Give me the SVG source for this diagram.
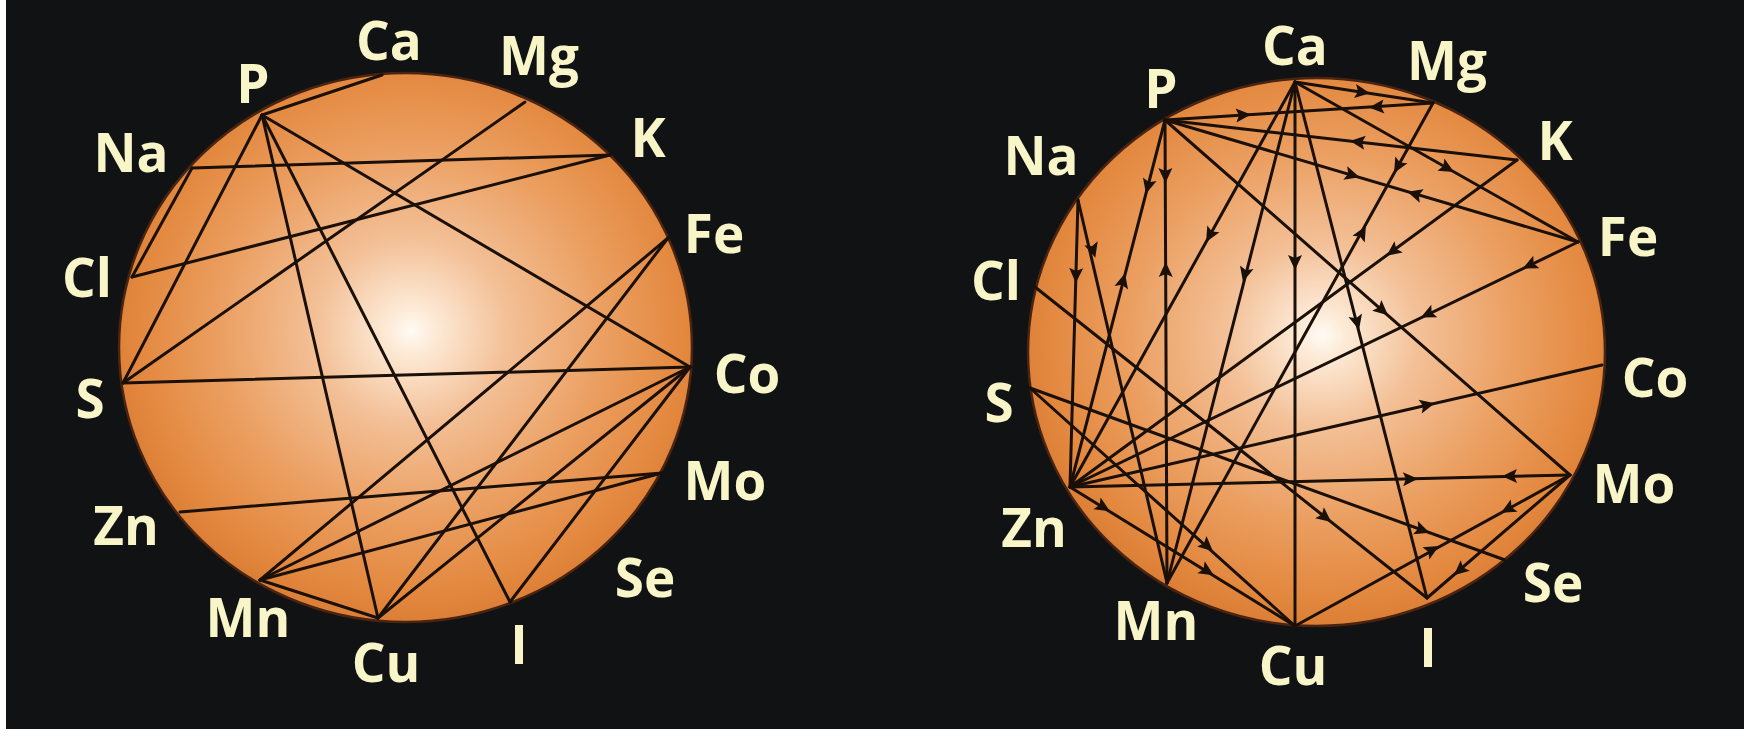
<svg xmlns="http://www.w3.org/2000/svg" width="1744" height="738" viewBox="0 0 1744 738">
<defs>
<radialGradient id="sph" cx="0.51" cy="0.47" r="0.56" fx="0.51" fy="0.47">
<stop offset="0" stop-color="#fffbf5"/>
<stop offset="0.07" stop-color="#fdebd8"/>
<stop offset="0.3" stop-color="#f3c097"/>
<stop offset="0.6" stop-color="#eb9f61"/>
<stop offset="0.85" stop-color="#e3883f"/>
<stop offset="1" stop-color="#d87a31"/>
</radialGradient>
<marker id="ah" viewBox="-9 -8 18 16" markerWidth="18" markerHeight="16" refX="0" refY="0" orient="auto" markerUnits="userSpaceOnUse">
<path d="M8,0 L-7,-7 L-4,0 L-7,7 Z" fill="#1a1008"/>
</marker>
<style>
.lbl{font-family:"Open Sans","Liberation Sans",sans-serif;font-weight:700;font-size:53px;fill:#f8f5c8;text-anchor:middle}
.ln{stroke:#1a1008;stroke-width:3;fill:none;stroke-linecap:round}
.ar{stroke:none;fill:none;marker-end:url(#ah)}
.sp{fill:url(#sph);stroke:#4a2410;stroke-width:2.5}
</style>
</defs>
<rect x="0" y="0" width="1744" height="738" fill="#ffffff"/>
<rect x="6" y="0" width="1738" height="729" fill="#111214"/>
<ellipse class="sp" cx="405.5" cy="347.5" rx="286.5" ry="274.5"/>
<ellipse class="sp" cx="1316.5" cy="352" rx="288.5" ry="274"/>

<g id="connectors">
<g id="left-lines">
<line class="ln" x1="262" y1="115" x2="382" y2="75"/>
<line class="ln" x1="262" y1="115" x2="123" y2="383"/>
<line class="ln" x1="262" y1="115" x2="378" y2="618"/>
<line class="ln" x1="262" y1="115" x2="510" y2="602"/>
<line class="ln" x1="262" y1="115" x2="690" y2="367"/>
<line class="ln" x1="192" y1="168" x2="610" y2="155"/>
<line class="ln" x1="192" y1="168" x2="132" y2="277"/>
<line class="ln" x1="132" y1="277" x2="610" y2="155"/>
<line class="ln" x1="525" y1="102" x2="123" y2="383"/>
<line class="ln" x1="123" y1="383" x2="690" y2="367"/>
<line class="ln" x1="668" y1="238" x2="260" y2="580"/>
<line class="ln" x1="668" y1="238" x2="378" y2="618"/>
<line class="ln" x1="690" y1="367" x2="260" y2="580"/>
<line class="ln" x1="690" y1="367" x2="378" y2="618"/>
<line class="ln" x1="690" y1="367" x2="510" y2="602"/>
<line class="ln" x1="180" y1="512" x2="662" y2="473"/>
<line class="ln" x1="260" y1="580" x2="662" y2="473"/>
<line class="ln" x1="260" y1="580" x2="378" y2="618"/>
</g>
<g id="right-lines">
<line class="ln" x1="1165" y1="120" x2="1433" y2="103"/>
<line class="ln" x1="1295" y1="82" x2="1433" y2="103"/>
<line class="ln" x1="1165" y1="120" x2="1517" y2="160"/>
<line class="ln" x1="1165" y1="120" x2="1578" y2="242"/>
<line class="ln" x1="1295" y1="82" x2="1578" y2="242"/>
<line class="ln" x1="1295" y1="82" x2="1427" y2="598"/>
<line class="ln" x1="1433" y1="103" x2="1167" y2="583"/>
<line class="ln" x1="1517" y1="160" x2="1070" y2="487"/>
<line class="ln" x1="1578" y1="242" x2="1070" y2="487"/>
<line class="ln" x1="1165" y1="120" x2="1570" y2="475"/>
<line class="ln" x1="1078" y1="200" x2="1070" y2="487"/>
<line class="ln" x1="1078" y1="200" x2="1167" y2="583"/>
<line class="ln" x1="1165" y1="120" x2="1070" y2="487"/>
<line class="ln" x1="1165" y1="120" x2="1167" y2="583"/>
<line class="ln" x1="1295" y1="82" x2="1070" y2="487"/>
<line class="ln" x1="1295" y1="82" x2="1167" y2="583"/>
<line class="ln" x1="1295" y1="82" x2="1295" y2="626"/>
<line class="ln" x1="1070" y1="487" x2="1602" y2="365"/>
<line class="ln" x1="1070" y1="487" x2="1570" y2="475"/>
<line class="ln" x1="1030" y1="388" x2="1505" y2="560"/>
<line class="ln" x1="1035" y1="287" x2="1427" y2="598"/>
<line class="ln" x1="1295" y1="626" x2="1570" y2="475"/>
<line class="ln" x1="1570" y1="475" x2="1427" y2="598"/>
<line class="ln" x1="1070" y1="487" x2="1295" y2="626"/>
<line class="ln" x1="1030" y1="388" x2="1295" y2="626"/>
</g>
<g id="right-arrows">
<path class="ar" d="M1165,120 L1243,115"/>
<path class="ar" d="M1433,103 L1377,107"/>
<path class="ar" d="M1295,82 L1362,92"/>
<path class="ar" d="M1517,160 L1358,142"/>
<path class="ar" d="M1165,120 L1352,175"/>
<path class="ar" d="M1578,242 L1415,194"/>
<path class="ar" d="M1295,82 L1447,168"/>
<path class="ar" d="M1295,82 L1357,322"/>
<path class="ar" d="M1433,103 L1398,166"/>
<path class="ar" d="M1167,583 L1362,233"/>
<path class="ar" d="M1517,160 L1393,251"/>
<path class="ar" d="M1578,242 L1530,265"/>
<path class="ar" d="M1578,242 L1428,314"/>
<path class="ar" d="M1165,120 L1382,310"/>
<path class="ar" d="M1078,200 L1076,275"/>
<path class="ar" d="M1078,200 L1093,250"/>
<path class="ar" d="M1165,120 L1148,186"/>
<path class="ar" d="M1070,487 L1123,281"/>
<path class="ar" d="M1165,120 L1165.4,175"/>
<path class="ar" d="M1167,583 L1165.7,270"/>
<path class="ar" d="M1295,82 L1210,235"/>
<path class="ar" d="M1295,82 L1245,274"/>
<path class="ar" d="M1295,82 L1295,262"/>
<path class="ar" d="M1070,487 L1427,405"/>
<path class="ar" d="M1070,487 L1410,479"/>
<path class="ar" d="M1570,475 L1510,476"/>
<path class="ar" d="M1030,388 L1422,530"/>
<path class="ar" d="M1035,287 L1325,517"/>
<path class="ar" d="M1295,626 L1432,550"/>
<path class="ar" d="M1570,475 L1508,509"/>
<path class="ar" d="M1570,475 L1460,570"/>
<path class="ar" d="M1070,487 L1103,507"/>
<path class="ar" d="M1070,487 L1207,571"/>
<path class="ar" d="M1030,388 L1207,546"/>
</g>
</g>

<g id="left-nodes">
<g id="L-P"><text class="lbl" x="253" y="103">P</text></g>
<g id="L-Ca"><text class="lbl" x="389" y="60">Ca</text></g>
<g id="L-Mg"><text class="lbl" x="539" y="75">Mg</text></g>
<g id="L-K"><text class="lbl" x="648" y="157">K</text></g>
<g id="L-Fe"><text class="lbl" x="714" y="253">Fe</text></g>
<g id="L-Co"><text class="lbl" x="747" y="393">Co</text></g>
<g id="L-Mo"><text class="lbl" x="725" y="500">Mo</text></g>
<g id="L-Se"><text class="lbl" x="645" y="597">Se</text></g>
<g id="L-I"><text class="lbl" x="519" y="664">I</text></g>
<g id="L-Cu"><text class="lbl" x="386" y="682">Cu</text></g>
<g id="L-Mn"><text class="lbl" x="248" y="637">Mn</text></g>
<g id="L-Zn"><text class="lbl" x="126" y="545">Zn</text></g>
<g id="L-S"><text class="lbl" x="90" y="418">S</text></g>
<g id="L-Cl"><text class="lbl" x="87" y="297">Cl</text></g>
<g id="L-Na"><text class="lbl" x="131" y="172">Na</text></g>
</g>
<g id="right-nodes">
<g id="R-P"><text class="lbl" x="1161" y="108">P</text></g>
<g id="R-Ca"><text class="lbl" x="1295" y="65">Ca</text></g>
<g id="R-Mg"><text class="lbl" x="1447" y="80">Mg</text></g>
<g id="R-K"><text class="lbl" x="1555" y="160">K</text></g>
<g id="R-Fe"><text class="lbl" x="1628" y="256">Fe</text></g>
<g id="R-Co"><text class="lbl" x="1655" y="397">Co</text></g>
<g id="R-Mo"><text class="lbl" x="1634" y="503">Mo</text></g>
<g id="R-Se"><text class="lbl" x="1553" y="602">Se</text></g>
<g id="R-I"><text class="lbl" x="1428" y="667">I</text></g>
<g id="R-Cu"><text class="lbl" x="1293" y="685">Cu</text></g>
<g id="R-Mn"><text class="lbl" x="1156" y="640">Mn</text></g>
<g id="R-Zn"><text class="lbl" x="1034" y="547">Zn</text></g>
<g id="R-S"><text class="lbl" x="999" y="422">S</text></g>
<g id="R-Cl"><text class="lbl" x="996" y="300">Cl</text></g>
<g id="R-Na"><text class="lbl" x="1041" y="175">Na</text></g>
</g>
</svg>
